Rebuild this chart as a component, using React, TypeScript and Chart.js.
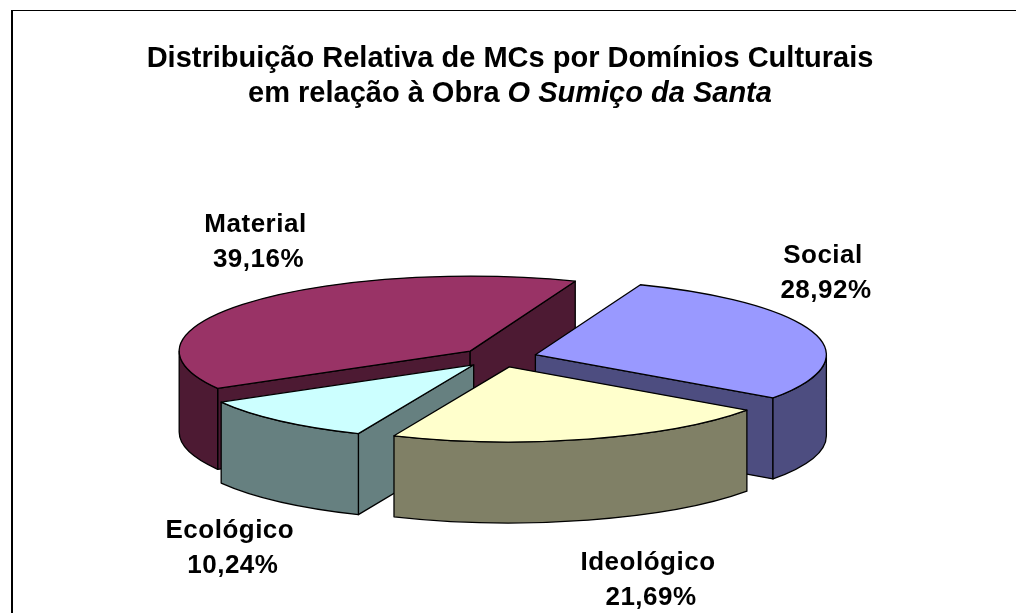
import React, { useEffect, useRef } from "react";
import { Chart, registerables } from "chart.js";

Chart.register(...registerables);

// ---- data ----
const CATEGORIES = ["Material", "Social", "Ideológico", "Ecológico"];
const PERCENTAGES = [39.16, 28.92, 21.69, 10.24];

const TITLE_LINE_1 = "Distribuição Relativa de MCs por Domínios Culturais";
const TITLE_LINE_2_PLAIN = "em relação à Obra ";
const TITLE_LINE_2_ITALIC = "O Sumiço da Santa";

// ---- styles ----
const TOP_COLORS = ["#993366", "#9999FF", "#FFFFCC", "#CCFFFF"];
const SIDE_COLORS = ["#4D1A33", "#4D4D80", "#808066", "#668080"];
// label offsets relative to the slice's outer top edge at its mid angle
const LABEL_OFFSETS: [number, number][] = [
  [6, -70],
  [9, -70],
  [60, 131],
  [-50, 117],
];
const RADIUS = 291;
const TILT = 75 / 291;
const DEPTH = 81;
const EXPLODE = 38;
const ROTATION = 240.2;
const FONT = '"Liberation Sans", Arial, Helvetica, sans-serif';

const fmt = (v: number) => v.toFixed(2).replace(".", ",") + "%";

const pie3d = {
  id: "pie3d",
  beforeDatasetsDraw(chart: any) {
    const ctx: CanvasRenderingContext2D = chart.ctx;
    const meta = chart.getDatasetMeta(0);
    const TAU = Math.PI * 2;
    const slices = meta.data.map((arc: any, i: number) => {
      const p = arc.getProps(["x", "y", "startAngle", "endAngle", "outerRadius"], true);
      const mid = (p.startAngle + p.endAngle) / 2;
      const off = arc.options.offset || 0;
      return {
        i,
        ox: p.x + off * Math.cos(mid),
        oy: p.y + TILT * off * Math.sin(mid),
        a: p.outerRadius,
        b: p.outerRadius * TILT,
        s: p.startAngle,
        t: p.endAngle,
        mid,
        top: arc.options.backgroundColor,
      };
    });
    const order = [...slices].sort((A, B) => Math.sin(A.mid) - Math.sin(B.mid));
    ctx.save();
    ctx.lineWidth = 1.3;
    ctx.strokeStyle = "#000";
    ctx.lineJoin = "round";
    for (const sl of order) {
      let s = sl.s;
      let t = sl.t;
      const n0 = Math.floor(s / TAU);
      s -= n0 * TAU;
      t -= n0 * TAU;
      ctx.fillStyle = SIDE_COLORS[sl.i];
      const radial = (ang: number) => {
        const ex = sl.ox + sl.a * Math.cos(ang);
        const ey = sl.oy + sl.b * Math.sin(ang);
        ctx.beginPath();
        ctx.moveTo(sl.ox, sl.oy);
        ctx.lineTo(ex, ey);
        ctx.lineTo(ex, ey + DEPTH);
        ctx.lineTo(sl.ox, sl.oy + DEPTH);
        ctx.closePath();
        ctx.fill();
        ctx.stroke();
      };
      if (Math.cos(s) < 0) radial(s);
      if (Math.cos(t) > 0) radial(t);
      for (let n = 0; n < 2; n++) {
        const u = Math.max(s, n * TAU);
        const v = Math.min(t, n * TAU + Math.PI);
        if (v > u) {
          ctx.beginPath();
          ctx.ellipse(sl.ox, sl.oy, sl.a, sl.b, 0, u, v, false);
          ctx.lineTo(sl.ox + sl.a * Math.cos(v), sl.oy + sl.b * Math.sin(v) + DEPTH);
          ctx.ellipse(sl.ox, sl.oy + DEPTH, sl.a, sl.b, 0, v, u, true);
          ctx.closePath();
          ctx.fill();
          ctx.stroke();
        }
      }
      ctx.fillStyle = sl.top;
      ctx.beginPath();
      ctx.moveTo(sl.ox, sl.oy);
      ctx.ellipse(sl.ox, sl.oy, sl.a, sl.b, 0, sl.s, sl.t, false);
      ctx.closePath();
      ctx.fill();
      ctx.stroke();
    }
    // labels
    ctx.fillStyle = "#000";
    ctx.font = `bold 26px ${FONT}`;
    ctx.textAlign = "center";
    ctx.textBaseline = "alphabetic";
    try {
      (ctx as any).letterSpacing = "0.5px";
    } catch (e) {}
    for (const sl of slices) {
      const ax = sl.ox + sl.a * Math.cos(sl.mid);
      const ay = sl.oy + sl.b * Math.sin(sl.mid);
      const [dx, dy] = LABEL_OFFSETS[sl.i];
      const x = ax + dx;
      const y = ay + dy;
      ctx.fillText(CATEGORIES[sl.i], x, y);
      ctx.fillText(fmt(PERCENTAGES[sl.i]), x + 3, y + 35);
    }
    ctx.restore();
    return false;
  },
};

export default function App() {
  const ref = useRef<HTMLCanvasElement | null>(null);
  useEffect(() => {
    if (!ref.current) return;
    const chart = new Chart(ref.current, {
      type: "pie",
      data: {
        labels: CATEGORIES,
        datasets: [
          {
            data: PERCENTAGES,
            backgroundColor: TOP_COLORS,
            borderWidth: 0,
            offset: EXPLODE,
            radius: RADIUS,
            rotation: ROTATION,
          } as any,
        ],
      },
      options: {
        responsive: false,
        animation: false,
        events: [],
        radius: RADIUS,
        rotation: ROTATION,
        layout: { padding: { left: 0, right: 18, top: 102, bottom: 0 } },
        plugins: {
          legend: { display: false },
          tooltip: { enabled: false },
          title: { display: false },
        },
      } as any,
      plugins: [pie3d as any],
    });
    return () => chart.destroy();
  }, []);

  return (
    <div
      style={{
        position: "fixed",
        left: 0,
        top: 0,
        width: 1016,
        height: 613,
        overflow: "hidden",
        background: "#fff",
      }}
    >
      <div
        style={{
          position: "absolute",
          left: 11,
          top: 10,
          width: 1200,
          height: 800,
          borderLeft: "2px solid #000",
          borderTop: "1px solid #000",
        }}
      />
      <canvas
        ref={ref}
        width={1016}
        height={613}
        style={{ position: "absolute", left: 0, top: 0, width: 1016, height: 613 }}
      />
      <div
        style={{
          position: "absolute",
          left: 0,
          top: 39.5,
          width: 1020,
          textAlign: "center",
          font: `bold 29px/35px ${FONT}`,
          color: "#000",
          whiteSpace: "pre",
        }}
      >
        {TITLE_LINE_1}
        {"\n"}
        {TITLE_LINE_2_PLAIN}
        <i>{TITLE_LINE_2_ITALIC}</i>
      </div>
    </div>
  );
}
